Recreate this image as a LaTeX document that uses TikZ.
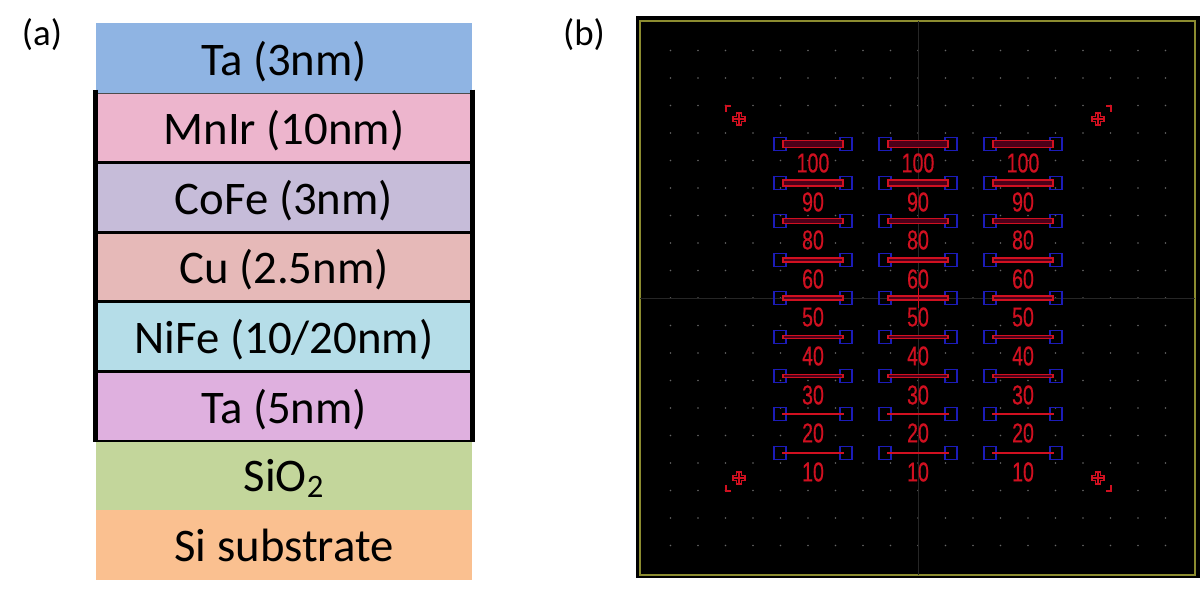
\documentclass[tikz,border=0pt]{standalone}
\usepackage{fontspec}
\setmainfont{Carlito}
\newfontfamily\chipfont[FakeStretch=0.72,FakeBold=0.4]{Liberation Sans}
\usetikzlibrary{positioning}
\definecolor{taTop}{HTML}{8FB4E3}
\definecolor{mnir}{HTML}{EDB5CD}
\definecolor{cofe}{HTML}{C6BCD9}
\definecolor{cu}{HTML}{E6B9B8}
\definecolor{nife}{HTML}{B5DDE8}
\definecolor{taLow}{HTML}{DFB0DF}
\definecolor{sio}{HTML}{C3D69B}
\definecolor{si}{HTML}{FAC090}
\definecolor{chipred}{HTML}{D01020}
\definecolor{chipblue}{HTML}{1C1CB8}
\definecolor{chipyellow}{HTML}{8C8C30}
\tikzset{
	layer/.style={inner sep=0pt,minimum width=7.52cm,minimum height=1.4cm,text depth=0pt,font=\fontsize{26.6}{26.6}\selectfont},
	sep/.style={line width=2pt,black},
	wall/.style={line width=2.6pt,black},
	panel/.style={inner sep=0pt,font=\fontsize{21}{21}\selectfont},
	pad/.style={draw=chipblue,line width=0.7pt,inner sep=0pt,minimum width=0.24cm,minimum height=0.26cm},
	bar/.style={draw=chipred,fill=black!60!purple,line width=0.6pt,inner sep=0pt,minimum width=1.2cm},
	dose/.style={text=chipred,inner sep=0pt,font=\chipfont\fontsize{15.5}{15.5}\selectfont},
	alignmark/.style={draw=chipred,line width=0.6pt}
}
\begin{document}
\begin{tikzpicture}[x=0.02cm,y=-0.02cm]
	\useasboundingbox (0,0) rectangle (1200,601);
	% stack
	\node[layer,fill=si] (l8) at (284,545) {Si substrate};
	\node[layer,fill=sio] (l7) at (284,475) {SiO\textsubscript{2}};
	\node[layer,fill=taLow] (l6) at (284,406) {Ta (5nm)};
	\node[layer,fill=nife] (l5) at (284,336) {NiFe (10/20nm)};
	\node[layer,fill=cu] (l4) at (284,266) {Cu (2.5nm)};
	\node[layer,fill=cofe] (l3) at (284,197) {CoFe (3nm)};
	\node[layer,fill=mnir] (l2) at (284,127) {MnIr (10nm)};
	\node[layer,fill=taTop] (l1) at (284,58) {Ta (3nm)};
	\foreach \n in {2,...,5}
		\draw[sep] (l\n.south west) -- (l\n.south east);
	\draw[black!70,line width=0.4pt] (l1.south west) -- (l1.south east);
	\draw[black,line width=1.2pt] (l6.south west) -- (l6.south east);
	\draw[wall] ([yshift=1.2pt]l2.north west) -- ([yshift=-0.5pt]l6.south west);
	\draw[wall] ([yshift=1.2pt]l2.north east) -- ([yshift=-0.5pt]l6.south east);
	\node[panel] (a) at (42,35) {(a)};
	\node[panel] (b) at (584,35) {(b)};
	% chip
	\fill[black] (636,16) rectangle (1200,578);
	\draw[chipyellow,line width=1pt] (640,21) rectangle (1195,575);
	\foreach \i in {-9,...,9}
		\foreach \j in {-9,...,9}
			\fill[black!60] (918+\i*27.5,298+\j*27.5) circle (0.45pt);
	\draw[black!85,line width=0.3pt] (918,21) -- (918,575);
	\draw[black!85,line width=0.3pt] (640,298) -- (1195,298);
	% devices
	\foreach \cx in {813,918,1023}
		\foreach \cy/\dose/\h in {144/100/0.14,183/90/0.12,221/80/0.1,260/60/0.08,298/50/0.08,337/40/0.06,376/30/0.06,414/20/0.03,453/10/0.01}{
			\node[pad] (p\cx\cy) at (\cx-33,\cy) {};
			\node[pad] (q\cx\cy) at (\cx+33,\cy) {};
			\node[bar,minimum height=\h cm] (s\cx\cy) at (\cx,\cy) {};
			\node[dose] (t\cx\cy) at (\cx,\cy+19) {\dose};
		}
	\draw[chipred,line width=0.5pt] (918,288) -- (918,308);
	% alignment marks
	\foreach \mx/\my/\sx/\sy in {739/119/-1/-1,1098/119/1/-1,739/478/-1/1,1098/478/1/1}{
		\draw[alignmark] (\mx-2.5,\my-6) -| (\mx+2.5,\my-2.5) -| (\mx+6,\my+2.5) -| (\mx+2.5,\my+6) -| (\mx-2.5,\my+2.5) -| (\mx-6,\my-2.5) -| cycle;
		\draw[alignmark] (\mx-6,\my) -- (\mx+6,\my) (\mx,\my-6) -- (\mx,\my+6);
		\draw[alignmark,line width=1.1pt] (\mx+\sx*8,\my+\sy*13) -- (\mx+\sx*13,\my+\sy*13) -- (\mx+\sx*13,\my+\sy*7);
	}
\end{tikzpicture}
\end{document}
